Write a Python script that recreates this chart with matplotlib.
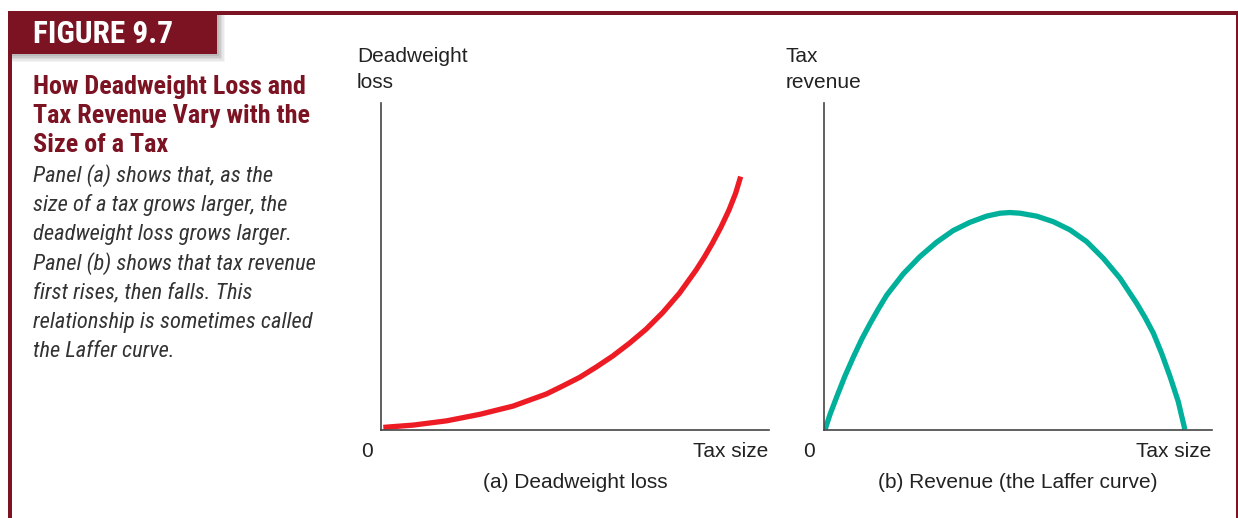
import matplotlib
matplotlib.use('Agg')
import matplotlib.pyplot as plt
from matplotlib.patches import Rectangle

# Curve (a): deadweight loss vs tax size (axis units 0-10)
dwl_x = [0.06, 0.83, 1.69, 2.55, 3.40, 4.26, 4.69, 5.12, 5.54, 5.97, 6.40, 6.83,
         7.26, 7.69, 8.12, 8.33, 8.54, 8.76, 8.97, 9.14, 9.27]
dwl_y = [0.08, 0.15, 0.28, 0.48, 0.73, 1.10, 1.35, 1.61, 1.92, 2.26, 2.65, 3.08,
         3.59, 4.18, 4.89, 5.28, 5.71, 6.20, 6.73, 7.24, 7.75]

# Curve (b): tax revenue vs tax size (Laffer curve)
rev_x = [0.03, 0.15, 0.33, 0.54, 0.76, 0.97, 1.19, 1.40, 1.62, 2.04, 2.47, 2.90,
         3.33, 3.76, 4.19, 4.54, 4.79, 5.05, 5.48, 5.91, 6.34, 6.77, 7.20, 7.63,
         8.06, 8.27, 8.49, 8.70, 8.92, 9.13, 9.30]
rev_y = [0.02, 0.46, 1.02, 1.65, 2.24, 2.77, 3.26, 3.70, 4.13, 4.77, 5.30, 5.74,
         6.10, 6.35, 6.54, 6.63, 6.65, 6.63, 6.54, 6.37, 6.12, 5.76, 5.25, 4.64,
         3.87, 3.45, 2.96, 2.35, 1.63, 0.87, 0.02]

fig_label = 'FIGURE 9.7'
heading = ['How Deadweight Loss and', 'Tax Revenue Vary with the', 'Size of a Tax']
caption = ['Panel (a) shows that, as the',
           'size of a tax grows larger, the',
           'deadweight loss grows larger.',
           'Panel (b) shows that tax revenue',
           'first rises, then falls. This',
           'relationship is sometimes called',
           'the Laffer curve.']
ylabels = [['Deadweight', 'loss'], ['Tax', 'revenue']]
xlabel = 'Tax size'
panel_titles = ['(a) Deadweight loss', '(b) Revenue (the Laffer curve)']

DARK_RED = '#7b1323'
RED = '#ed1c24'
TEAL = '#00b09b'
AXIS = '#444444'
NARROW = ['Roboto Condensed', 'Liberation Sans Narrow', 'DejaVu Sans']
SANS = ['Liberation Sans', 'DejaVu Sans']

W, H = 1238, 518
fig = plt.figure(figsize=(W / 100, H / 100), dpi=100)

# background layer in pixel units
bg = fig.add_axes([0, 0, 1, 1])
bg.set_xlim(0, W)
bg.set_ylim(H, 0)
bg.axis('off')

# frame
bg.add_patch(Rectangle((8, 11), W - 8, 4, color=DARK_RED, lw=0))
bg.add_patch(Rectangle((8, 11), 4, H - 11, color=DARK_RED, lw=0))
bg.add_patch(Rectangle((1236, 11), 1.5, H - 11, color=DARK_RED, lw=0))

# figure label box with soft shadow
for i, a in enumerate([0.04, 0.05, 0.06, 0.07, 0.08]):
    d = 8 - i * 1.5
    bg.add_patch(Rectangle((12, 54), 205 + d, d, color='black', alpha=a, lw=0))
    bg.add_patch(Rectangle((217, 15), d, 39, color='black', alpha=a, lw=0))
bg.add_patch(Rectangle((8, 11), 209, 43, color=DARK_RED, lw=0))
bg.text(33, 43, fig_label, color='white', fontsize=22.5, fontweight='bold',
        family=NARROW, va='baseline')

for i, line in enumerate(heading):
    bg.text(33, 94 + i * 29, line, color=DARK_RED, fontsize=18.8, fontweight='bold',
            family=NARROW, va='baseline')
for i, line in enumerate(caption):
    bg.text(33, 182 + i * 29.2, line, color='#333333', fontsize=16.2, style='italic',
            family=NARROW, va='baseline')

# panels
panels = [
    (381, dwl_x, dwl_y, RED, 357, 367, 768, 575),
    (824, rev_x, rev_y, TEAL, 786, 809, 1211, 1018),
]
for k, (left, xs, ys, col, ylx, zx, txr, tcx) in enumerate(panels):
    ax = fig.add_axes([left / W, (H - 430) / H, 388 / W, 327 / H])
    ax.plot(xs, ys, color=col, lw=3.8, solid_capstyle='butt', solid_joinstyle='round')
    ax.set_xlim(0, 10)
    ax.set_ylim(0, 10)
    ax.set_xticks([])
    ax.set_yticks([])
    ax.spines['top'].set_visible(False)
    ax.spines['right'].set_visible(False)
    for s in ['left', 'bottom']:
        ax.spines[s].set_color(AXIS)
        ax.spines[s].set_linewidth(1.2)
    ax.patch.set_alpha(0)

    bg.text(ylx, 62, ylabels[k][0], fontsize=15, family=SANS, color='#222222', va='baseline')
    bg.text(ylx, 88, ylabels[k][1], fontsize=15, family=SANS, color='#222222', va='baseline')
    bg.text(zx, 457, '0', fontsize=15, family=SANS, color='#222222', va='baseline', ha='center')
    bg.text(txr, 457, xlabel, fontsize=15, family=SANS, color='#222222', va='baseline', ha='right')
    bg.text(tcx, 488, panel_titles[k], fontsize=15, family=SANS, color='#222222',
            va='baseline', ha='center')

fig.savefig('out.png', dpi=100)
